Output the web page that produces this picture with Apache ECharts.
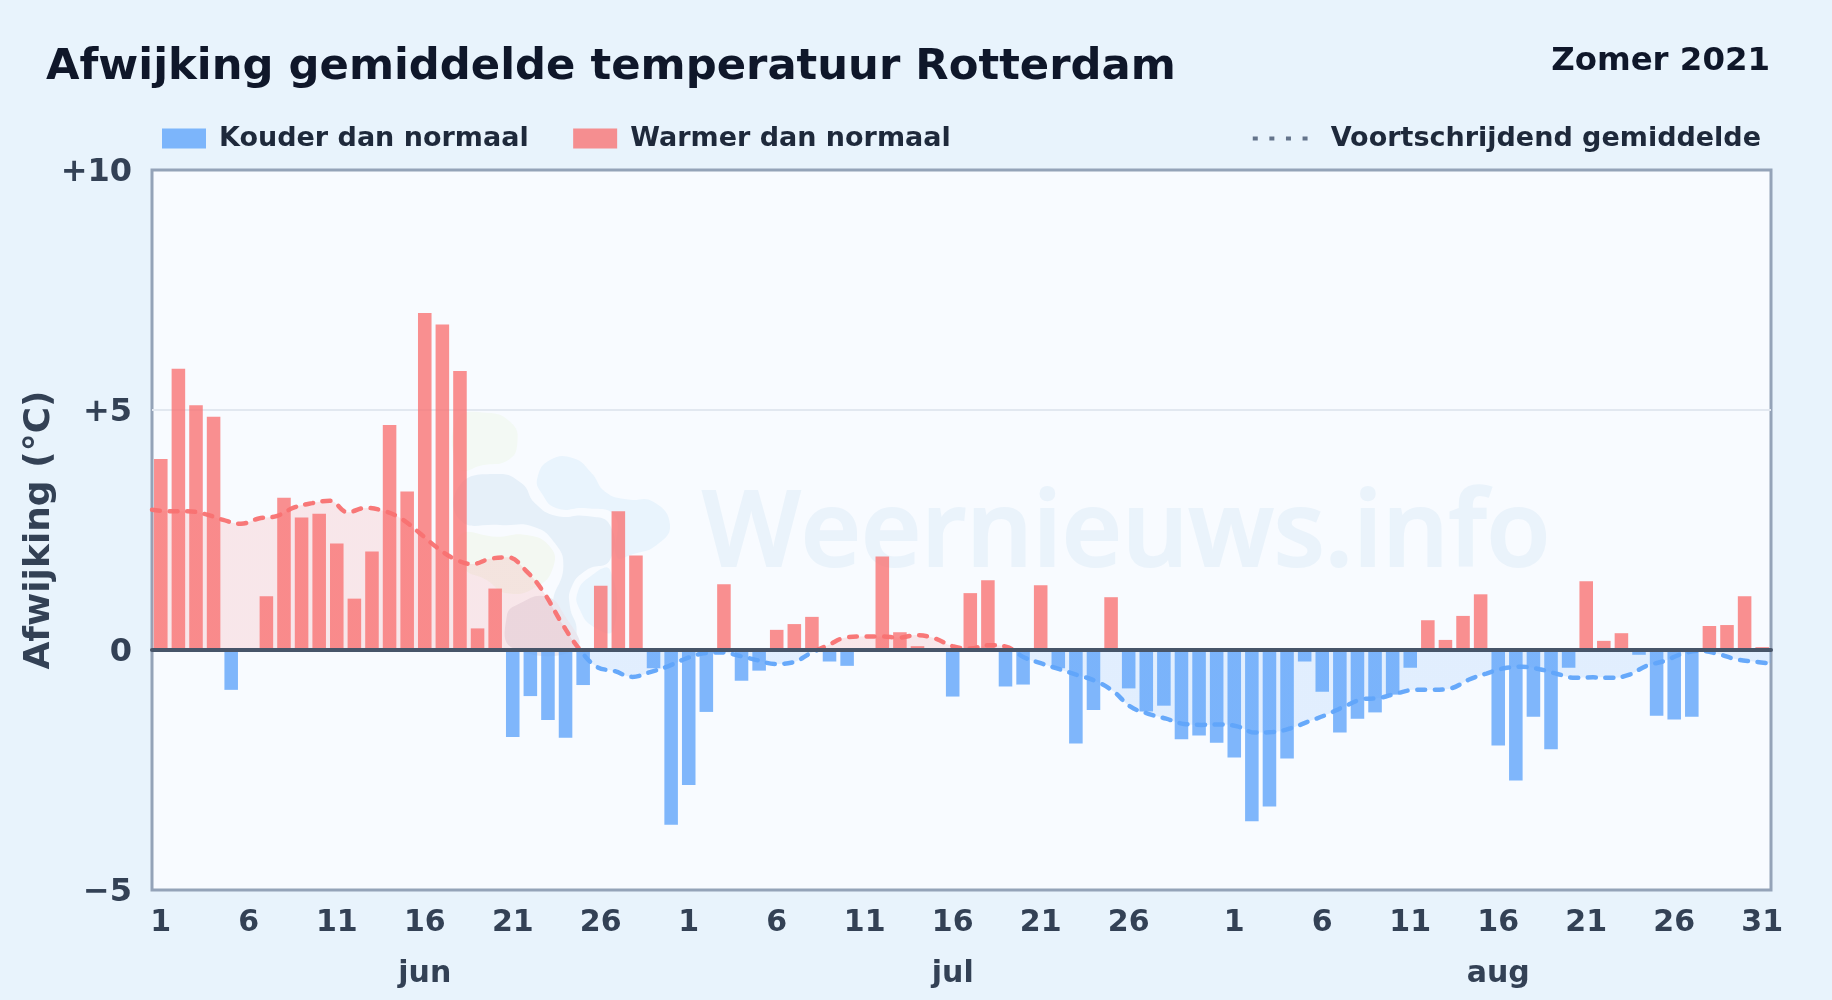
<!DOCTYPE html>
<html><head><meta charset="utf-8">
<style>html,body{margin:0;padding:0;background:#e8f3fc}#c{width:1832px;height:1000px}</style>
<script src="https://cdn.jsdelivr.net/npm/echarts@6/dist/echarts.min.js"></script>
</head><body><div id="c"></div>
<script>
const chartTitle = 'Afwijking gemiddelde temperatuur Rotterdam';
const seasonLabel = 'Zomer 2021';
const junDays = 30, julDays = 31, augDays = 31;
const junDeviation = [3.98,5.86,5.10,4.86,-0.83,0,1.12,3.17,2.76,2.84,2.22,1.07,2.05,4.69,3.30,7.02,6.78,5.81,0.45,1.28,-1.81,-0.96,-1.46,-1.83,-0.73,1.34,2.89,1.97,-0.38,-3.64];
const julDeviation = [-2.81,-1.29,1.37,-0.64,-0.43,0.42,0.54,0.69,-0.24,-0.33,0,1.95,0.37,0.08,0.03,-0.97,1.185,1.455,-0.76,-0.72,1.35,-0.38,-1.95,-1.25,1.10,-0.80,-1.28,-1.16,-1.86,-1.78,-1.93];
const augDeviation = [-2.24,-3.57,-3.26,-2.26,-0.24,-0.87,-1.72,-1.43,-1.30,-0.93,-0.37,0.62,0.21,0.71,1.16,-1.99,-2.72,-1.39,-2.07,-0.37,1.43,0.19,0.35,-0.10,-1.37,-1.45,-1.39,0.50,0.52,1.12,0.06];
const movingAvg = [2.92,2.89,2.89,2.83,2.71,2.63,2.74,2.79,2.97,3.06,3.11,2.87,2.96,2.90,2.74,2.45,2.14,1.90,1.79,1.90,1.93,1.66,1.21,0.58,0.03,-0.35,-0.44,-0.56,-0.46,-0.34,-0.18,-0.07,-0.05,-0.12,-0.21,-0.29,-0.26,-0.07,0.10,0.26,0.28,0.28,0.26,0.31,0.24,0.08,0.03,0.10,0.07,-0.15,-0.28,-0.40,-0.52,-0.64,-0.85,-1.18,-1.33,-1.43,-1.54,-1.56,-1.55,-1.59,-1.72,-1.71,-1.63,-1.49,-1.35,-1.18,-1.03,-1.00,-0.90,-0.83,-0.83,-0.80,-0.62,-0.49,-0.38,-0.35,-0.40,-0.50,-0.58,-0.57,-0.58,-0.52,-0.33,-0.23,-0.08,-0.02,-0.08,-0.19,-0.24,-0.28];
const hiddenTickIndex = [60];
const monthLabels = {15:'jun',45:'jul',76:'aug'};

const deviation = [...junDeviation, ...julDeviation, ...augDeviation];
const dayNames = [];
[junDays, julDays, augDays].forEach(n => { for (let d = 1; d <= n; d++) dayNames.push(String(d)); });
const cold = deviation.map(v => v < 0 ? v : null);
const warm = deviation.map(v => v > 0 ? v : null);

const FONT = '"DejaVu Sans"';
const legendText = {fontFamily: FONT, fontWeight: 'bold', fontSize: 27, color: '#1e293b'};
const dotsIcon = 'path://M0 0h5v4h-5zM16.6 0h5v4h-5zM33.2 0h5v4h-5zM49.8 0h5v4h-5z';

// watermark logo outlines, in a local drawing space
const logoPt = pts => pts.map(p => [440 + p[0] / 3, 400 + p[1] / 3]);
const blob = (pts, fill) => ({type: 'polygon', z: 1, shape: {smooth: 0.5, points: logoPt(pts)}, style: {fill}});
const yLabelStyle = {fontFamily: FONT, fontWeight: 'bold', fontSize: 32, color: '#334155'};

const chart = echarts.init(document.getElementById('c'), null, {renderer: 'canvas'});
chart.setOption({
  animation: false,
  backgroundColor: '#e8f3fc',
  title: [
    {text: chartTitle, left: 46, top: 46, padding: 0, textStyle: {fontFamily: FONT, fontWeight: 'bold', fontSize: 43.3, color: '#0f172a'}},
    {text: seasonLabel, right: 62, top: 46, padding: 0, textStyle: {fontFamily: FONT, fontWeight: 'bold', fontSize: 32.4, color: '#0f172a'}}
  ],
  legend: [
    {left: 162, top: 125, padding: 0, itemWidth: 44, itemHeight: 20, itemGap: 44.5, textStyle: {...legendText, padding: [0,0,0,8]}, icon: 'rect',
     data: ['Kouder dan normaal', 'Warmer dan normaal']},
    {right: 71, top: 125, padding: 0, itemWidth: 55, itemHeight: 4, textStyle: {...legendText, padding: [0,0,0,18]}, selectedMode: false,
     data: [{name: 'Voortschrijdend gemiddelde', icon: dotsIcon, itemStyle: {color: '#64748b', opacity: 1}}]}
  ],
  grid: {left: 152, right: 61, top: 170, bottom: 110, show: true, backgroundColor: '#f8fbff', borderColor: '#94a3b8', borderWidth: 3},
  xAxis: [
    {type: 'category', data: dayNames, position: 'bottom', axisLine: {show: false, onZero: false}, axisTick: {show: false},
     splitLine: {show: false},
     axisLabel: {fontFamily: FONT, fontWeight: 'bold', fontSize: 30, color: '#334155', margin: 18,
       interval: (i, name) => (+name - 1) % 5 === 0 && !hiddenTickIndex.includes(i)}},
    {type: 'category', data: dayNames, position: 'bottom', axisLine: {show: false, onZero: false}, axisTick: {show: false},
     splitLine: {show: false},
     axisLabel: {fontFamily: FONT, fontWeight: 'bold', fontSize: 30, color: '#334155', margin: 69,
       interval: i => monthLabels[i] !== undefined,
       formatter: (v, i) => monthLabels[i] || ''}},
    {type: 'category', data: dayNames, boundaryGap: false, position: 'bottom', axisTick: {show: false}, axisLabel: {show: false},
     splitLine: {show: false},
     axisLine: {show: true, onZero: true, lineStyle: {color: '#475569', width: 4}}, z: 6}
  ],
  yAxis: {type: 'value', min: -5, max: 10, interval: 5,
    name: 'Afwijking (°C)', nameLocation: 'middle', nameGap: 94, nameRotate: 90, nameMoveOverlap: false,
    nameTextStyle: {fontFamily: FONT, fontWeight: 'bold', fontSize: 36, color: '#334155'},
    axisLine: {show: false}, axisTick: {show: false},
    axisLabel: {...yLabelStyle, margin: 20,
      rich: {v: {...yLabelStyle, padding: [5, 0, 0, 0]}},
      formatter: v => '{v|' + (v > 0 ? '+' + v : (v < 0 ? '−' + Math.abs(v) : '0')) + '}'},
    splitLine: {show: true, showMinLine: false, showMaxLine: false, lineStyle: {color: '#e2e8f0', width: 2}}},
  visualMap: {show: false, type: 'piecewise', seriesIndex: 2, dimension: 1,
    pieces: [{min: -5, max: 0, color: '#60a5fa'}, {min: 0, max: 10, color: '#f87171'}]},
  graphic: [
    {type: 'text', z: 1, style: {text: 'Weernieuws.info', x: 702, y: 484, fontFamily: '"Open Sans"', fontWeight: 600, fontSize: 104.5, fill: '#eaf3fb', stroke: '#eaf3fb', lineWidth: 2}},
    blob([[50,60],[140,38],[215,70],[232,130],[205,180],[130,195],[60,205]], '#f3f9f4'),
    blob([[292,235],[330,180],[400,175],[455,220],[495,275],[560,298],[640,305],[690,375],[650,435],[580,462],[530,470],[525,350],[440,325],[350,325],[305,280]], '#e9f4fd'),
    blob([[412,580],[450,530],[510,510],[520,690],[460,680],[420,630]], '#e9f4fd'),
    blob([[60,255],[170,222],[245,250],[285,310],[350,348],[440,348],[510,375],[510,480],[440,510],[395,560],[390,620],[410,690],[390,745],[340,620],[370,500],[345,430],[280,380],[180,375],[60,360]], '#e6f0f9'),
    blob([[60,405],[170,410],[260,405],[330,440],[340,500],[290,560],[200,580],[140,540],[70,500]], '#f3f8f2'),
    blob([[200,650],[240,610],[320,590],[370,640],[410,745],[220,745]], '#e9e8f0')
  ],
  series: [
    {name: 'Kouder dan normaal', type: 'bar', xAxisIndex: 0, data: cold, barWidth: '77%', barGap: '-100%', z: 3,
     itemStyle: {color: 'rgba(96,165,250,0.8)'}},
    {name: 'Warmer dan normaal', type: 'bar', xAxisIndex: 0, data: warm, barWidth: '77%', barGap: '-100%', z: 3,
     itemStyle: {color: 'rgba(248,113,113,0.78)'}},
    {name: 'Voortschrijdend gemiddelde', type: 'line', xAxisIndex: 2, data: movingAvg, smooth: 0.4, showSymbol: false, symbol: 'none', z: 5,
     lineStyle: {width: 4.5, type: [8, 9.6], cap: 'round', opacity: 0.95},
     areaStyle: {opacity: 0.15}}
  ]
});
</script></body></html>
